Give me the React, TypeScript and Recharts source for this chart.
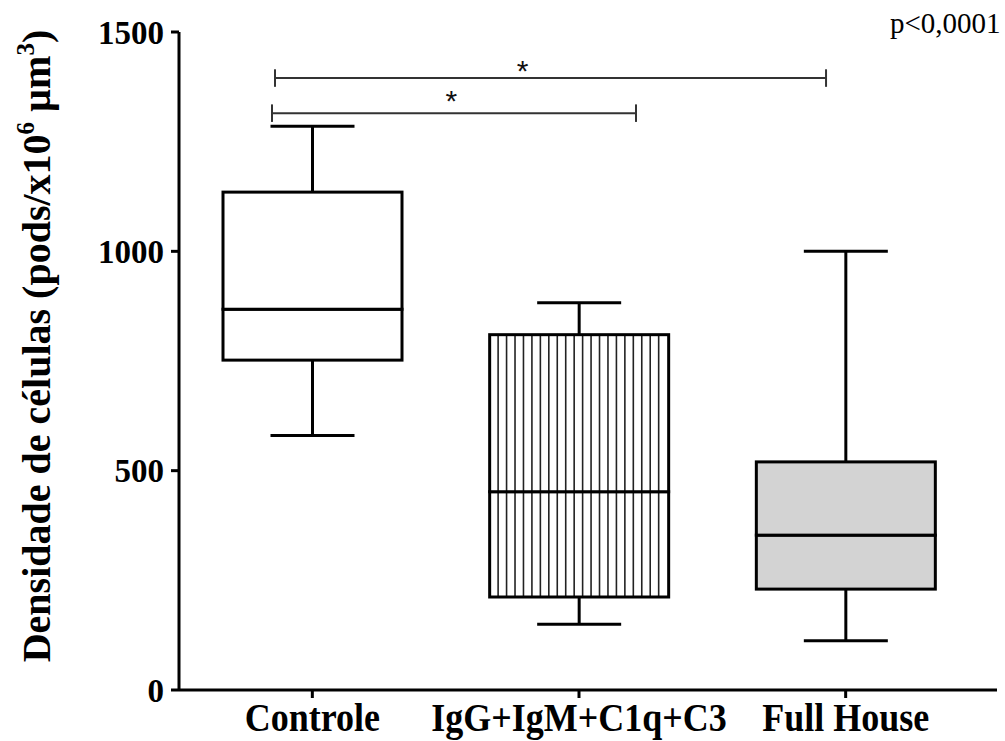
import React from "react";
import { Bar, ComposedChart, ReferenceDot, ReferenceLine, XAxis, YAxis } from "recharts";

const categories = ["Controle", "IgG+IgM+C1q+C3", "Full House"];
const minValues = [580, 150, 112];
const q1Values = [752, 212, 230];
const medianValues = [868, 452, 353];
const q3Values = [1135, 810, 520];
const maxValues = [1285, 883, 1000];
const boxFills = ["white", "hatch", "#d3d3d3"];
const yTicks = [0, 500, 1000, 1500];

// significance brackets, x in units of the hidden 0..3 axis
const bracketStart = [0.352, 0.341];
const bracketEnd = [2.373, 1.676];
const bracketY = [1395, 1315];
const starX = [1.26, 0.999];
const starY = [1428, 1358];
const starText = ["*", "*"];

const FONT = "'Liberation Serif', 'Times New Roman', serif";

const data = categories.map((name, i) => ({
  name,
  pos: i + 0.5,
  fillKind: boxFills[i],
  base: minValues[i],
  lowWhisker: q1Values[i] - minValues[i],
  lowBox: medianValues[i] - q1Values[i],
  highBox: q3Values[i] - medianValues[i],
  highWhisker: maxValues[i] - q3Values[i],
}));

const Empty = () => null;

const whisker = (top: boolean) => (props: any) => {
  const { x, y, width, height } = props;
  const cx = x + width / 2;
  const capY = top ? y : y + height;
  return (
    <g>
      <line x1={cx} x2={cx} y1={y} y2={y + height} stroke="#000" strokeWidth={3} />
      <line x1={cx - 42} x2={cx + 42} y1={capY} y2={capY} stroke="#000" strokeWidth={3} />
    </g>
  );
};

const BoxShape = (props: any) => {
  const { x, y, width, height, payload } = props;
  const kind = payload.fillKind;
  const hatch: React.ReactNode[] = [];
  if (kind === "hatch") {
    for (let lx = x + 8.45; lx < x + width - 2; lx += 8.45) {
      hatch.push(<line key={lx} x1={lx} x2={lx} y1={y} y2={y + height} stroke="#222" strokeWidth={1.6} />);
    }
  }
  return (
    <g>
      <rect x={x} y={y} width={width} height={height} fill={kind === "hatch" ? "#fff" : kind} />
      {hatch}
      <rect x={x} y={y} width={width} height={height} fill="none" stroke="#000" strokeWidth={3} />
    </g>
  );
};

const XTick = (props: any) => {
  const { x, y, payload } = props;
  return (
    <text
      transform={`translate(${x},${y + 33}) scale(1,1.1)`}
      textAnchor="middle"
      fontFamily={FONT}
      fontSize={36}
      fontWeight="bold"
      fill="#000"
    >
      {payload.value}
    </text>
  );
};

const YTitle = () => (
  <text
    transform="translate(50,346) rotate(-90)"
    textAnchor="middle"
    fontFamily={FONT}
    fontSize={40}
    fontWeight="bold"
    fill="#000"
  >
    Densidade de células (pods/x10
    <tspan fontSize={25} dy={-16}>6</tspan>
    <tspan dy={16}>{"  µm"}</tspan>
    <tspan fontSize={25} dy={-16}>3</tspan>
    <tspan dy={16}>)</tspan>
  </text>
);

const Star = (i: number) => (props: any) => (
  <text x={props.cx} y={props.cy + 17} textAnchor="middle" fontFamily="'Liberation Sans', Arial, sans-serif" fontSize={30} fill="#111">
    {starText[i]}
  </text>
);

export default function App() {
  return (
    <div style={{ position: "absolute", left: 0, top: 0, width: 1005, height: 741, background: "#fff" }}>
      <ComposedChart width={1005} height={741} data={data} margin={{ top: 32, right: 8, bottom: 0, left: 0 }}>
        <XAxis
          xAxisId="cat"
          dataKey="name"
          height={51}
          padding={{ left: 0, right: 18 }}
          axisLine={{ stroke: "#000", strokeWidth: 3 }}
          tickLine={{ stroke: "#000", strokeWidth: 3 }}
          tickSize={8}
          tickMargin={0}
          tick={<XTick />}
          interval={0}
        />
        <XAxis
          xAxisId="b"
          dataKey="pos"
          orientation="top"
          type="number"
          domain={[0, 3]}
          allowDataOverflow
          height={0}
          hide
        />
        <YAxis
          width={179}
          domain={[0, 1500]}
          ticks={yTicks}
          interval={0}
          axisLine={{ stroke: "#000", strokeWidth: 3 }}
          tickLine={{ stroke: "#000", strokeWidth: 3 }}
          tickSize={8}
          tickMargin={7}
          tick={{ fill: "#000", fontSize: 33, fontWeight: "bold", fontFamily: FONT }}
          label={<YTitle />}
        />
        <Bar xAxisId="cat" dataKey="base" stackId="a" barSize={179} shape={<Empty />} isAnimationActive={false} />
        <Bar xAxisId="cat" dataKey="lowWhisker" stackId="a" barSize={179} shape={whisker(false)} isAnimationActive={false} />
        <Bar xAxisId="cat" dataKey="lowBox" stackId="a" barSize={179} shape={<BoxShape />} isAnimationActive={false} />
        <Bar xAxisId="cat" dataKey="highBox" stackId="a" barSize={179} shape={<BoxShape />} isAnimationActive={false} />
        <Bar xAxisId="cat" dataKey="highWhisker" stackId="a" barSize={179} shape={whisker(true)} isAnimationActive={false} />
        {bracketY.map((by, i) => (
          <ReferenceLine
            key={`h${i}`}
            xAxisId="b"
            ifOverflow="visible"
            segment={[{ x: bracketStart[i], y: by }, { x: bracketEnd[i], y: by }]}
            stroke="#333"
            strokeWidth={2}
          />
        ))}
        {bracketY.flatMap((by, i) =>
          [bracketStart[i], bracketEnd[i]].map((bx, j) => (
            <ReferenceLine
              key={`v${i}${j}`}
              xAxisId="b"
              ifOverflow="visible"
              segment={[{ x: bx, y: by - 20 }, { x: bx, y: by + 20 }]}
              stroke="#333"
              strokeWidth={2}
            />
          ))
        )}
        {starX.map((sx, i) => (
          <ReferenceDot key={`s${i}`} xAxisId="b" x={sx} y={starY[i]} r={0} ifOverflow="visible" shape={Star(i)} />
        ))}
      </ComposedChart>
      <svg width={1005} height={741} style={{ position: "absolute", left: 0, top: 0, pointerEvents: "none" }}>
        <text x={890} y={33} fontFamily={FONT} fontSize={29} fill="#000">
          p&lt;0,0001
        </text>
      </svg>
    </div>
  );
}
